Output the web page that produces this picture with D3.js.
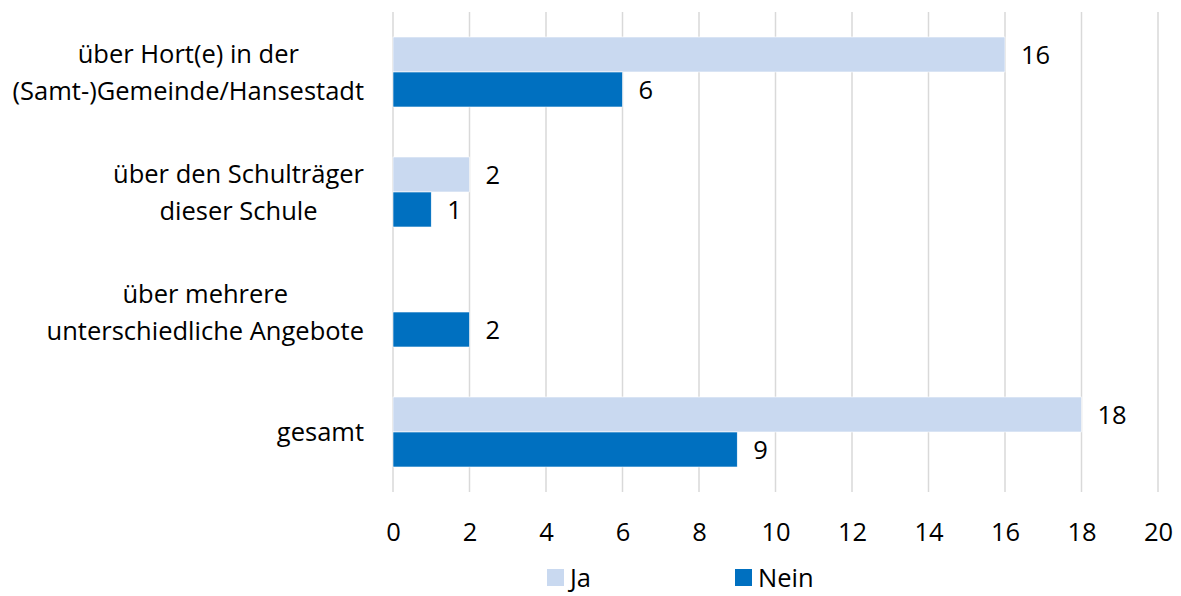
<!DOCTYPE html>
<html>
<head>
<meta charset="utf-8">
<script src="https://cdn.jsdelivr.net/npm/d3@7"></script>
<style>
  html, body { margin: 0; padding: 0; background: #fff; }
  svg text { font-family: "Open Sans", Lato, "Liberation Sans", sans-serif; fill: #000; }
</style>
</head>
<body>
<div id="chart"></div>
<script>
// data
const categories = [
  ["über Hort(e) in der", "(Samt-)Gemeinde/Hansestadt"],
  ["über den Schulträger", "dieser Schule"],
  ["über mehrere", "unterschiedliche Angebote"],
  ["gesamt"]
];
const seriesNames = ["Ja", "Nein"];
const jaValues = [16, 2, 0, 18];
const neinValues = [6, 1, 2, 9];
const xTicks = [0, 2, 4, 6, 8, 10, 12, 14, 16, 18, 20];
const colors = ["#C9D9F0", "#0070C0"];

const W = 1181, H = 596;
const fontSize = 25.5;
const plot = { left: 393, right: 1158, top: 12, bottom: 492 };

const svg = d3.select("#chart").append("svg")
  .attr("width", W)
  .attr("height", H);

const x = d3.scaleLinear()
  .domain([0, 20])
  .range([plot.left, plot.right]);

const y = d3.scaleBand()
  .domain(d3.range(categories.length))
  .range([plot.top, plot.bottom]);

const inner = d3.scaleBand()
  .domain(seriesNames)
  .range([0, y.bandwidth()])
  .paddingOuter(0.357 * 2)
  .paddingInner(0);

// grid
svg.append("g")
  .selectAll("line")
  .data(xTicks)
  .join("line")
  .attr("x1", d => x(d)).attr("x2", d => x(d))
  .attr("y1", plot.top).attr("y2", plot.bottom)
  .attr("stroke", "#D9D9D9")
  .attr("stroke-width", 1.5);

// x axis labels
const xAxis = d3.axisBottom(x).tickValues(xTicks).tickSize(0).tickPadding(0);
svg.append("g")
  .attr("transform", `translate(0,${plot.bottom})`)
  .call(xAxis)
  .call(g => g.select(".domain").remove())
  .call(g => g.selectAll("text")
    .attr("dy", "0.36em")
    .attr("y", 40)
    .style("font-size", fontSize + "px")
    .style("font-family", null));

// bars
const rows = categories.map((c, i) => ({ i, values: [jaValues[i], neinValues[i]] }));
const groups = svg.append("g")
  .selectAll("g")
  .data(rows)
  .join("g")
  .attr("transform", d => `translate(0,${y(d.i)})`);

const cells = groups.selectAll("g")
  .data(d => d.values.map((v, k) => ({ key: seriesNames[k], k, v })))
  .join("g");

cells.filter(d => d.v > 0).append("rect")
  .attr("x", x(0))
  .attr("y", d => inner(d.key))
  .attr("width", d => x(d.v) - x(0))
  .attr("height", inner.bandwidth())
  .attr("fill", d => colors[d.k])
  .attr("stroke", "#fff")
  .attr("stroke-width", 0.6);

cells.filter(d => d.v > 0).append("text")
  .attr("x", d => x(d.v) + 16)
  .attr("y", d => inner(d.key) + inner.bandwidth() / 2)
  .attr("dy", "0.36em")
  .style("font-size", fontSize + "px")
  .text(d => d.v);

// category labels: lines centered, block right-aligned
const labelRight = 364;
const lineH = 37;
const labels = svg.append("g")
  .selectAll("text")
  .data(categories.map((lines, i) => ({ lines, i })))
  .join("text")
  .attr("text-anchor", "middle")
  .style("font-size", fontSize + "px");

labels.each(function(d) {
  const t = d3.select(this);
  const cy = y(d.i) + y.bandwidth() / 2;
  const n = d.lines.length;
  t.selectAll("tspan")
    .data(d.lines)
    .join("tspan")
    .attr("y", (l, j) => cy + (j - (n - 1) / 2) * lineH)
    .attr("dy", "0.36em")
    .text(l => l);
  let maxW = 0;
  t.selectAll("tspan").each(function() { maxW = Math.max(maxW, this.getComputedTextLength()); });
  t.selectAll("tspan").attr("x", labelRight - maxW / 2);
});

// legend
const legendX = [547, 735];
const legend = svg.append("g")
  .selectAll("g")
  .data(seriesNames)
  .join("g")
  .attr("transform", (d, i) => `translate(${legendX[i]},569)`);
legend.append("rect")
  .attr("width", 17).attr("height", 17)
  .attr("fill", (d, i) => colors[i]);
legend.append("text")
  .attr("x", 23)
  .attr("y", 8.5)
  .attr("dy", "0.36em")
  .style("font-size", fontSize + "px")
  .text(d => d);
</script>
</body>
</html>
